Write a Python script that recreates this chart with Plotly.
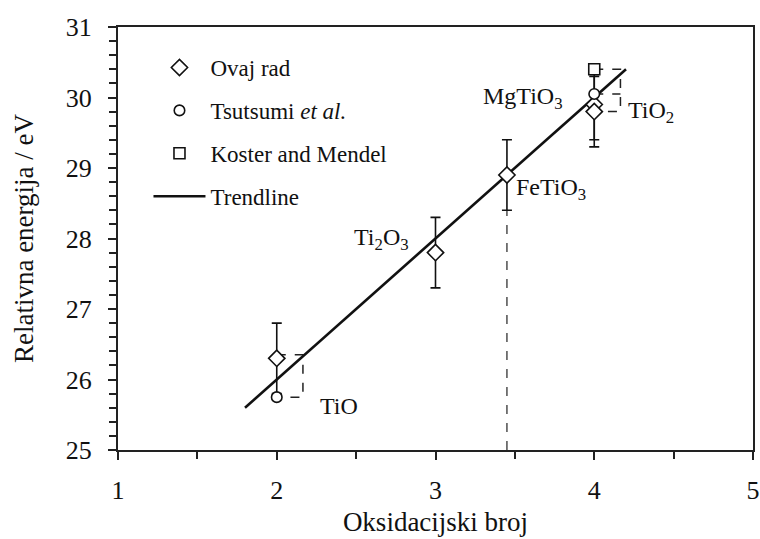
import plotly.graph_objects as go

# Data
ovaj_x = [2, 3, 3.45, 4, 4]
ovaj_y = [26.3, 27.8, 28.9, 29.9, 29.8]
ovaj_err = [0.5, 0.5, 0.5, 0.5, 0.5]

tsu_x = [2, 4]
tsu_y = [25.75, 30.05]

kos_x = [4]
kos_y = [30.4]

trend_x = [1.8, 4.2]
trend_y = [25.6, 30.4]

labels = ["TiO", "Ti<sub>2</sub>O<sub>3</sub>", "FeTiO<sub>3</sub>", "MgTiO<sub>3</sub>", "TiO<sub>2</sub>"]
label_x = [2.39, 2.66, 3.73, 3.55, 4.36]
label_y = [25.62, 28.0, 28.7, 30.0, 29.8]

BR = 0.165  # bracket offset
FONT = "Liberation Serif"
INK = "#111"

fig = go.Figure()

dash_line = dict(color="#222", width=1.5, dash="dash")
# Dashed bracket TiO (diamond <-> circle)
fig.add_trace(go.Scatter(x=[ovaj_x[0], ovaj_x[0] + BR, ovaj_x[0] + BR, tsu_x[0]],
                         y=[ovaj_y[0] + 0.05, ovaj_y[0] + 0.05, tsu_y[0], tsu_y[0]],
                         mode="lines", showlegend=False, hoverinfo="skip", line=dash_line))
# Dashed bracket TiO2 (square, circle, diamond)
fig.add_trace(go.Scatter(x=[kos_x[0], kos_x[0] + BR, kos_x[0] + BR, ovaj_x[4]],
                         y=[kos_y[0], kos_y[0], ovaj_y[4], ovaj_y[4]],
                         mode="lines", showlegend=False, hoverinfo="skip", line=dash_line))
fig.add_trace(go.Scatter(x=[tsu_x[1], tsu_x[1] + BR], y=[tsu_y[1], tsu_y[1]], mode="lines",
                         showlegend=False, hoverinfo="skip", line=dash_line))
# Vertical dashed line at FeTiO3
fig.add_trace(go.Scatter(x=[ovaj_x[2], ovaj_x[2]], y=[25, ovaj_y[2] - ovaj_err[2]], mode="lines",
                         showlegend=False, hoverinfo="skip",
                         line=dict(color="#222", width=1.2, dash="dash")))

# Trendline
fig.add_trace(go.Scatter(x=trend_x, y=trend_y, mode="lines", name="Trendline",
                         legendrank=4, legendgroup="d",
                         line=dict(color=INK, width=2.6)))

# Ovaj rad
fig.add_trace(go.Scatter(x=ovaj_x, y=ovaj_y, mode="markers", name="Ovaj rad",
                         legendrank=1, legendgroup="a",
                         marker=dict(symbol="diamond", size=12.5, color="white",
                                     line=dict(color=INK, width=1.6)),
                         error_y=dict(type="data", array=ovaj_err, visible=True,
                                      color=INK, thickness=1.6, width=5)))
# Tsutsumi
fig.add_trace(go.Scatter(x=tsu_x, y=tsu_y, mode="markers", name="Tsutsumi <i>et al.</i>",
                         legendrank=2, legendgroup="b",
                         marker=dict(symbol="circle", size=10.5, color="white",
                                     line=dict(color=INK, width=1.6))))
# Koster
fig.add_trace(go.Scatter(x=kos_x, y=kos_y, mode="markers", name="Koster and Mendel",
                         legendrank=3, legendgroup="c",
                         marker=dict(symbol="square", size=11, color="white",
                                     line=dict(color=INK, width=1.6))))

for t, lx, ly in zip(labels, label_x, label_y):
    fig.add_annotation(x=lx, y=ly, text=t, showarrow=False,
                       font=dict(family=FONT, size=24, color=INK))

axis_common = dict(showline=True, linecolor="#222", linewidth=2, mirror=True,
                   showgrid=False, zeroline=False, ticks="outside", tickcolor="#222",
                   tickwidth=1.5, ticklen=8, automargin=False,
                   tickfont=dict(family=FONT, size=26, color=INK),
                   title_font=dict(family=FONT, size=27, color=INK))

fig.update_xaxes(range=[1, 5], dtick=1, tick0=1, ticklabelstandoff=8,
                 minor=dict(dtick=0.5, ticks="outside", ticklen=7, tickcolor="#222", tickwidth=1.5),
                 title_text="Oksidacijski broj", title_standoff=8, **axis_common)
fig.update_yaxes(range=[25, 31], dtick=1, tick0=25, ticklabelstandoff=11,
                 minor=dict(dtick=0.2, ticks="outside", ticklen=7, tickcolor="#222", tickwidth=1.5),
                 title_text="Relativna energija / eV", title_standoff=24, **axis_common)

fig.update_layout(
    width=760, height=539, autosize=False,
    margin=dict(l=118, r=7, t=27, b=89, autoexpand=False),
    paper_bgcolor="white", plot_bgcolor="white",
    font=dict(family=FONT, color=INK),
    legend=dict(x=0.048, y=0.955, xanchor="left", yanchor="top",
                bgcolor="rgba(0,0,0,0)", font=dict(family=FONT, size=23, color=INK),
                traceorder="grouped", tracegroupgap=10, itemwidth=52),
)

fig.write_html("out.html", config={"displayModeBar": False},
               post_script="document.body.style.margin='0';document.body.style.overflow='hidden';")
